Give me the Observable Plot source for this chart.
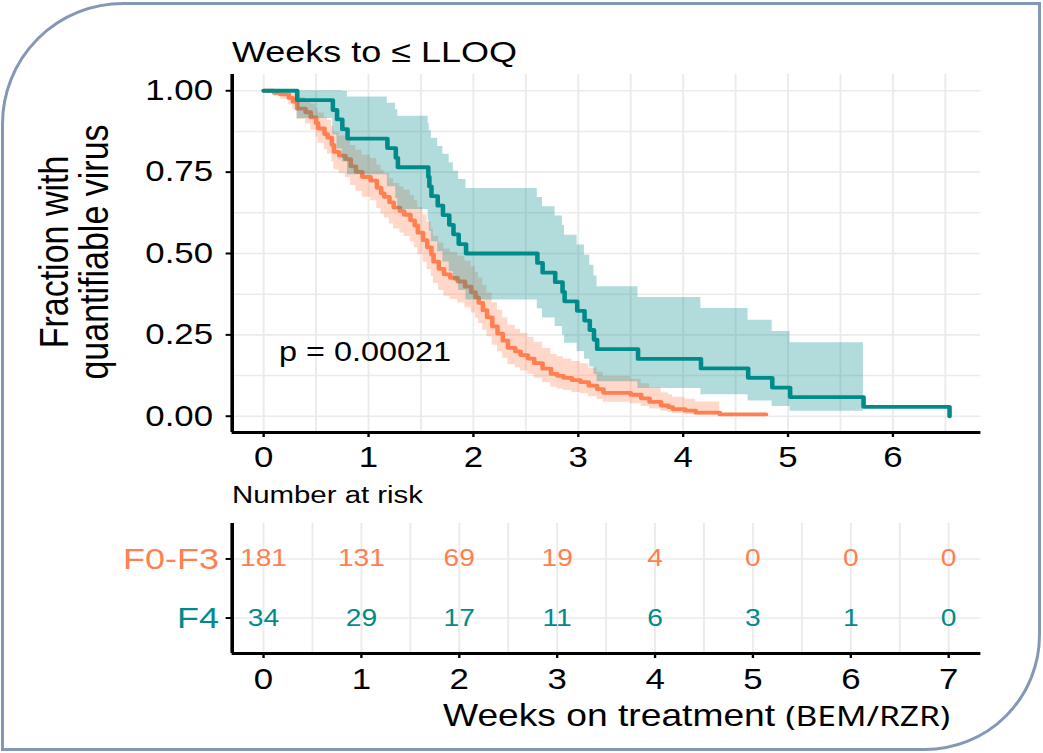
<!DOCTYPE html>
<html>
<head>
<meta charset="utf-8">
<script src="https://cdn.jsdelivr.net/npm/d3@7"></script>
<script src="https://cdn.jsdelivr.net/npm/@observablehq/plot@0.6"></script>
<style>
  html, body { margin: 0; padding: 0; background: #fff; }
  #wrap { position: relative; width: 1043px; height: 753px; overflow: hidden; background: #fff; }
  #frame { position: absolute; left: 1px; top: 2px; width: 1040px; height: 749px; box-sizing: border-box;
           border: 3px solid #8497b7; border-top-left-radius: 122px; border-bottom-right-radius: 116px; }
  #inner { position: absolute; left: 0; top: 0; width: 869px; height: 753px; transform: scaleX(1.2); transform-origin: 0 0; }
  #inner > * { position: absolute; left: 0; overflow: visible; }
  text { font-family: "Liberation Sans", Arial, sans-serif; }
</style>
</head>
<body>
<div id="wrap">
  <div id="frame"></div>
  <div id="inner"></div>
</div>
<script>
// ---------- data ----------
// F4 (teal) Kaplan-Meier steps
const f4Time  = [0, 0.32, 0.66, 0.70, 0.75, 0.80, 1.18, 1.26, 1.28, 1.57, 1.58, 1.60, 1.66, 1.71, 1.77, 1.81, 1.86, 1.93, 2.61, 2.66, 2.78, 2.85, 2.87, 2.99, 3.06, 3.11, 3.15, 3.18, 3.57, 4.17, 4.62, 4.85, 5.02, 5.72, 6.54];
const f4Surv  = [1, .971, .941, .912, .882, .853, .824, .794, .765, .735, .706, .676, .647, .618, .588, .559, .529, .5, .471, .441, .412, .382, .353, .324, .294, .265, .235, .206, .176, .147, .118, .088, .059, .029, 0];
const f4Lower = [1, .915, .865, .821, .781, .742, .705, .669, .635, .601, .568, .536, .505, .474, .444, .415, .386, .357, .330, .302, .276, .249, .224, .199, .175, .151, .128, .106, .085, .066, .047, .030, .015, .004, null];
const f4Upper = [1, 1, 1, 1, .998, .981, .962, .942, .922, .900, .877, .854, .829, .805, .779, .753, .727, .700, .672, .644, .615, .586, .556, .526, .495, .464, .431, .398, .365, .331, .295, .260, .226, .203, null];

// F0-F3 (orange) Kaplan-Meier steps
const f03Time  = [0, 0.10, 0.16, 0.24, 0.28, 0.32, 0.40, 0.45, 0.50, 0.52, 0.58, 0.61, 0.65, 0.67, 0.72, 0.78, 0.83, 0.88, 0.94, 1.02, 1.08, 1.12, 1.15, 1.20, 1.24, 1.30, 1.34, 1.40, 1.44, 1.47, 1.52, 1.56, 1.60, 1.62, 1.67, 1.72, 1.78, 1.85, 1.92, 1.98, 2.02, 2.05, 2.09, 2.13, 2.18, 2.23, 2.28, 2.33, 2.40, 2.45, 2.52, 2.58, 2.66, 2.74, 2.80, 2.86, 2.94, 3.02, 3.10, 3.18, 3.24, 3.50, 3.60, 3.68, 3.79, 3.86, 3.90, 4.02, 4.12, 4.35, 4.79];
const f03Surv  = [1, .994, .989, .978, .967, .945, .934, .918, .901, .884, .867, .856, .834, .812, .801, .79, .768, .751, .735, .724, .702, .685, .674, .657, .641, .63, .619, .602, .586, .564, .541, .519, .497, .475, .453, .436, .425, .414, .398, .381, .365, .348, .326, .304, .276, .254, .232, .21, .199, .188, .177, .163, .146, .13, .124, .118, .111, .105, .094, .083, .072, .066, .055, .044, .033, .028, .022, .017, .011, .0055, .0055];
const f03Lower = [1, .983, .974, .957, .941, .912, .898, .879, .858, .839, .819, .806, .782, .757, .745, .733, .709, .691, .673, .662, .638, .621, .609, .591, .575, .563, .552, .535, .518, .496, .473, .451, .429, .408, .386, .369, .359, .348, .333, .317, .301, .285, .264, .244, .218, .198, .178, .158, .149, .139, .129, .117, .103, .089, .084, .079, .073, .069, .060, .051, .043, .038, .030, .022, .015, .012, .0083, .0055, .0028, .0008, null];
const f03Upper = [1, 1, 1, 1, .993, .979, .971, .959, .946, .932, .918, .909, .890, .871, .861, .852, .832, .817, .802, .792, .772, .756, .746, .730, .715, .704, .694, .678, .662, .641, .618, .597, .575, .553, .532, .514, .503, .492, .476, .459, .442, .425, .402, .379, .349, .326, .302, .279, .267, .254, .242, .227, .208, .190, .183, .176, .168, .161, .148, .135, .122, .114, .100, .087, .072, .066, .058, .052, .044, .039, null];

// Number at risk table
const groups     = ["F0-F3", "F4"];
const riskTimes  = [0, 1, 2, 3, 4, 5, 6, 7];
const riskF03    = [181, 131, 69, 19, 4, 0, 0, 0];
const riskF4     = [34, 29, 17, 11, 6, 3, 1, 0];

// ticks
const mainXTicks  = [0, 1, 2, 3, 4, 5, 6];
const mainXGrid   = [0, 0.5, 1, 1.5, 2, 2.5, 3, 3.5, 4, 4.5, 5, 5.5, 6, 6.5];
const mainYTicks  = [0, 0.25, 0.5, 0.75, 1];
const mainYGrid   = [0, 0.125, 0.25, 0.375, 0.5, 0.625, 0.75, 0.875, 1];
const riskXTicks  = [0, 1, 2, 3, 4, 5, 6, 7];
const riskXGrid   = [0, 0.5, 1, 1.5, 2, 2.5, 3, 3.5, 4, 4.5, 5, 5.5, 6, 6.5, 7];

// texts
const titleText = "Weeks to \u2264 LLOQ";
const yLabelLines = ["Fraction with", "quantifiable virus"];
const pValueText = "p = 0.00021";
const riskTitle = "Number at risk";
const xLabelMain = "Weeks on treatment ";
const xLabelSuffix = "(BEM/RZR)";

// ---------- styling ----------
const ORANGE = "#ff7f50";
const TEAL = "#008b8b";
const GRID = "#ebebeb";
const FONT = "'Liberation Sans', Arial, sans-serif";
const W = 869;

const xMainDomain = [-0.3, 6.84];
const yMainDomain = [-0.05, 1.05];
const xRiskDomain = [-0.32, 7.33];
const yRiskDomain = [1.6, -0.6];

const toRows = (t, s, lo, up) => t.map((d, i) => ({t: d, s: s[i], lo: lo[i], up: up[i]}));
const f4 = toRows(f4Time, f4Surv, f4Lower, f4Upper);
const f03 = toRows(f03Time, f03Surv, f03Lower, f03Upper);

const inner = document.getElementById("inner");

const main = Plot.plot({
  width: W, height: 482,
  marginLeft: 193, marginRight: 52, marginTop: 74, marginBottom: 50,
  x: {domain: xMainDomain, label: null},
  y: {domain: yMainDomain, label: null},
  style: {background: "transparent", fontFamily: FONT, color: "black", overflow: "visible"},
  marks: [
    Plot.gridX(mainXGrid, {stroke: GRID, strokeOpacity: 1, strokeWidth: 1.6}),
    Plot.gridY(mainYGrid, {stroke: GRID, strokeOpacity: 1, strokeWidth: 1.6}),
    Plot.areaY(f03, {x: "t", y1: "lo", y2: "up", curve: "step-after", fill: ORANGE, fillOpacity: 0.3}),
    Plot.line(f03, {x: "t", y: "s", curve: "step-after", stroke: ORANGE, strokeWidth: 3.8}),
    Plot.areaY(f4, {x: "t", y1: "lo", y2: "up", curve: "step-after", fill: TEAL, fillOpacity: 0.3}),
    Plot.line(f4, {x: "t", y: "s", curve: "step-after", stroke: TEAL, strokeWidth: 3.8}),
    Plot.axisY({ticks: mainYTicks, tickFormat: d3.format(".2f"), tickSize: 5, tickPadding: 11, fontSize: 29, label: null, stroke: "black", strokeWidth: 2, fill: "black"}),
    Plot.axisX({ticks: mainXTicks, tickFormat: d3.format("d"), tickSize: 5, tickPadding: 9, fontSize: 29, label: null, stroke: "black", strokeWidth: 2, fill: "black"}),
    Plot.ruleX([xMainDomain[0]], {stroke: "black", strokeWidth: 3}),
    Plot.ruleY([yMainDomain[0]], {stroke: "black", strokeWidth: 3})
  ]
});
main.style.top = "0px";
inner.appendChild(main);

const riskRowsF03 = riskTimes.map((t, i) => ({t, row: 0, n: riskF03[i]}));
const riskRowsF4 = riskTimes.map((t, i) => ({t, row: 1, n: riskF4[i]}));

const risk = Plot.plot({
  width: W, height: 283,
  marginLeft: 193, marginRight: 52, marginTop: 53, marginBottom: 100,
  x: {domain: xRiskDomain, label: null},
  y: {domain: yRiskDomain, label: null},
  style: {background: "transparent", fontFamily: FONT, color: "black", overflow: "visible"},
  marks: [
    Plot.gridX(riskXGrid, {stroke: GRID, strokeOpacity: 1, strokeWidth: 1.6}),
    Plot.gridY([0, 1], {stroke: GRID, strokeOpacity: 1, strokeWidth: 1.6}),
    Plot.text(riskRowsF03, {x: "t", y: "row", text: "n", fill: ORANGE, fontSize: 23.5}),
    Plot.text(riskRowsF4, {x: "t", y: "row", text: "n", fill: TEAL, fontSize: 23.5}),
    Plot.text([groups[0]], {y: () => 0, text: d => d, frameAnchor: "left", textAnchor: "end", dx: -11, fill: ORANGE, fontSize: 30}),
    Plot.text([groups[1]], {y: () => 1, text: d => d, frameAnchor: "left", textAnchor: "end", dx: -11, fill: TEAL, fontSize: 30}),
    Plot.axisY({ticks: [0, 1], tickFormat: () => "", tickSize: 5, label: null, stroke: "black", strokeWidth: 2}),
    Plot.axisX({ticks: riskXTicks, tickFormat: d3.format("d"), tickSize: 5, tickPadding: 10, fontSize: 29, label: null, stroke: "black", strokeWidth: 2, fill: "black"}),
    Plot.ruleX([xRiskDomain[0]], {stroke: "black", strokeWidth: 3}),
    Plot.ruleY([yRiskDomain[0]], {stroke: "black", strokeWidth: 3})
  ]
});
risk.style.top = "470px";
inner.appendChild(risk);

// ---------- overlay texts ----------
const svg = d3.create("svg").attr("width", W).attr("height", 753).style("top", "0px").style("overflow", "visible");
svg.append("text").attr("x", 193.3).attr("y", 62).attr("font-size", 30).attr("fill", "black").text(titleText);
svg.append("text").attr("transform", "translate(56.7,252) rotate(-90)").attr("text-anchor", "middle").attr("font-size", 34).attr("fill", "black").text(yLabelLines[0]);
svg.append("text").attr("transform", "translate(90,252) rotate(-90)").attr("text-anchor", "middle").attr("font-size", 34).attr("fill", "black").text(yLabelLines[1]);
svg.append("text").attr("x", 232.5).attr("y", 361).attr("font-size", 27).attr("fill", "black").text(pValueText);
svg.append("text").attr("x", 193.3).attr("y", 503).attr("font-size", 24.5).attr("fill", "black").text(riskTitle);
const xl = svg.append("text").attr("x", 791.7).attr("y", 726).attr("text-anchor", "end").attr("font-size", 31).attr("fill", "black");
xl.append("tspan").text(xLabelMain);
xl.append("tspan").attr("font-family", "'Noto Sans', 'Open Sans', sans-serif").attr("font-size", 28).text(xLabelSuffix);
inner.appendChild(svg.node());
</script>
</body>
</html>
